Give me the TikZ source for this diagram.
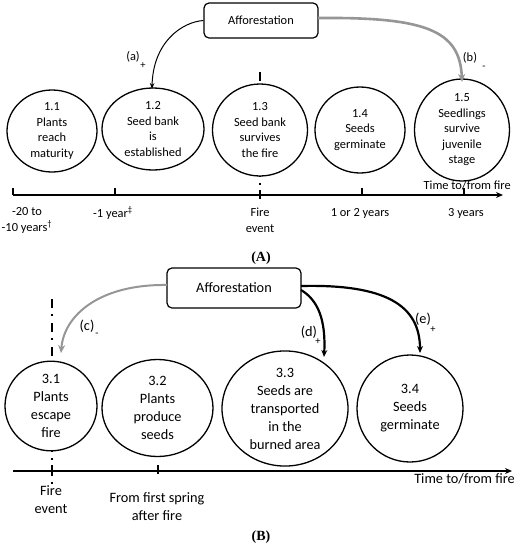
\documentclass[tikz,border=0pt]{standalone}
\usepackage{fontspec}
\setmainfont{Carlito}
\newfontfamily\capfont{Liberation Serif}
\usetikzlibrary{shapes.geometric,arrows.meta}
\definecolor{arrgray}{RGB}{150,150,150}
\begin{document}
\begin{tikzpicture}[x=1pt,y=-1pt,
  fA/.style={font=\fontsize{12.4}{15.5}\selectfont},
  fB/.style={font=\fontsize{14.3}{18}\selectfont},
  stageA/.style={ellipse,draw,line width=1.3pt,fill=white,inner sep=0pt,align=center,fA},
  stageB/.style={ellipse,draw,line width=1.3pt,fill=white,inner sep=0pt,align=center,fB},
  affbox/.style={draw,rounded corners=5pt,line width=1.2pt,fill=white,inner sep=0pt},
  axis/.style={line width=1.6pt,-{Stealth[length=7pt,width=6pt]}},
  tick/.style={line width=1.6pt},
  fireline/.style={line width=1.9pt,dash pattern=on 9pt off 5.5pt on 2pt off 7.5pt},
  txt/.style={inner sep=0pt,align=center},
  lbl/.style={inner sep=0pt},
  sub/.style={inner sep=0pt,font=\fontsize{10.5}{11}\selectfont},
  thinarr/.style={line width=1pt,-{Stealth[length=6pt,width=4.5pt]}},
  grayarr/.style={line width=2.6pt,draw=arrgray,-{Stealth[length=8pt,width=7pt]}},
  grayarrB/.style={line width=2pt,draw=arrgray,-{Stealth[length=8pt,width=7pt]}},
  blackarr/.style={line width=2.2pt,-{Stealth[length=7pt,width=6pt]}}
]
\useasboundingbox (0,0) rectangle (529,550);

% ---------- Part A ----------
\coordinate (fA1) at (260,72);
\coordinate (fA2) at (260,195);
\draw[fireline] (fA1) -- (fA2);

\node[affbox,fA,minimum width=114pt,minimum height=35pt] (affA) at (261,20.5) {Afforestation};

\node[stageA,minimum width=90pt,minimum height=82pt] (s11) at (52,131) {1.1\\Plants\\reach\\maturity};
\node[stageA,minimum width=102pt,minimum height=82pt] (s12) at (153,129) {1.2\\Seed bank\\is\\established};
\node[stageA,minimum width=95pt,minimum height=92pt] (s13) at (260,130) {1.3\\Seed bank\\survives\\the fire};
\node[stageA,minimum width=90pt,minimum height=86pt] (s14) at (360,130) {1.4\\Seeds\\germinate};
\node[stageA,minimum width=95pt,minimum height=92pt] (s15) at (462,130) {1.5\\Seedlings\\survive\\juvenile\\stage};

\coordinate (aA0) at (13,195);
\coordinate (aA1) at (503,195);
\draw[axis] (aA0) -- (aA1);
\foreach \x/\n in {13/t1,115/t2,362/t4,464/t5}{
  \coordinate (\n a) at (\x,195);
  \coordinate (\n b) at (\x,188);
  \draw[tick] (\n a) -- (\n b);
}
\coordinate (t3a) at (260,199);
\coordinate (t3b) at (260,190);
\draw[tick] (t3a) -- (t3b);
\node[lbl,fA,anchor=east] (timeA) at (511,185) {Time to/from fire};

\node[txt,fA,anchor=west] (lbA1) at (1.5,220.5) {-20 to\\-10 years\textsuperscript{†}};
\node[txt,fA] (lbA2) at (113,213) {-1 year\textsuperscript{‡}};
\node[txt,fA] (lbA3) at (260,220.5) {Fire\\event};
\node[txt,fA] (lbA4) at (360,213) {1 or 2 years};
\node[txt,fA] (lbA5) at (466,213) {3 years};

\node[lbl,font=\capfont\bfseries\fontsize{14}{16}\selectfont] (capA) at (261,258) {(A)};

\coordinate (aEnd) at (152,89);
\draw[thinarr] (affA.west) .. controls (182,22) and (153,42) .. (aEnd);
\node[lbl,fA] (la) at (133,57) {(a)};
\node[sub] (lap) at (143,65.5) {+};

\coordinate (bStart) at (318,18);
\coordinate (bEnd) at (462,82);
\draw[grayarr] (bStart) .. controls (425,17) and (460,30) .. (bEnd);
\node[lbl,fA] (lb) at (470,58) {(b)};
\node[sub] (lbm) at (484,67.5) {-};

% ---------- Part B ----------
\coordinate (fB1) at (52,299);
\coordinate (fB2) at (52,484);
\draw[fireline] (fB1) -- (fB2);

\node[affbox,fB,minimum width=134pt,minimum height=40pt] (affB) at (234,288) {Afforestation};

\node[stageB,minimum width=92pt,minimum height=86pt] (s31) at (51,406) {3.1\\Plants\\escape\\fire};
\node[stageB,minimum width=111pt,minimum height=97pt] (s32) at (157.5,408) {3.2\\Plants\\produce\\seeds};
\node[stageB,minimum width=126pt,minimum height=107pt] (s33) at (285,408.5) {3.3\\Seeds are\\transported\\in the\\burned area};
\node[stageB,minimum width=106pt,minimum height=107pt] (s34) at (410,408.5) {3.4\\Seeds\\germinate};

\coordinate (aB0) at (13,471);
\coordinate (aB1) at (512,471);
\draw[axis] (aB0) -- (aB1);
\coordinate (u1a) at (52,465);
\coordinate (u1b) at (52,476);
\draw[tick] (u1a) -- (u1b);
\coordinate (u2a) at (158,465);
\coordinate (u2b) at (158,474);
\draw[tick] (u2a) -- (u2b);
\node[lbl,fB,anchor=east] (timeB) at (515,479) {Time to/from fire};

\node[txt,fB] (lbB1) at (51,500) {Fire\\event};
\node[txt,fB] (lbB2) at (157,507) {From first spring\\after fire};

\node[lbl,font=\capfont\bfseries\fontsize{14}{16}\selectfont] (capB) at (261,537) {(B)};

\coordinate (cStart) at (167,285);
\coordinate (cEnd) at (61,353);
\draw[grayarrB] (cStart) .. controls (100,284) and (64,315) .. (cEnd);
\node[lbl,fB] (lc) at (87,326) {(c)};
\node[sub] (lcm) at (97,335) {-};

\coordinate (dStart) at (301,290);
\coordinate (dEnd) at (324,357);
\draw[blackarr] (dStart) .. controls (318,300) and (326,320) .. (dEnd);
\node[lbl,fB] (ld) at (309,332) {(d)};
\node[sub] (ldp) at (318,342) {+};

\coordinate (eStart) at (301,286);
\coordinate (eEnd) at (420,353);
\draw[blackarr] (eStart) .. controls (385,284) and (420,305) .. (eEnd);
\node[lbl,fB] (le) at (423,319) {(e)};
\node[sub] (lep) at (433,330) {+};
\end{tikzpicture}
\end{document}
